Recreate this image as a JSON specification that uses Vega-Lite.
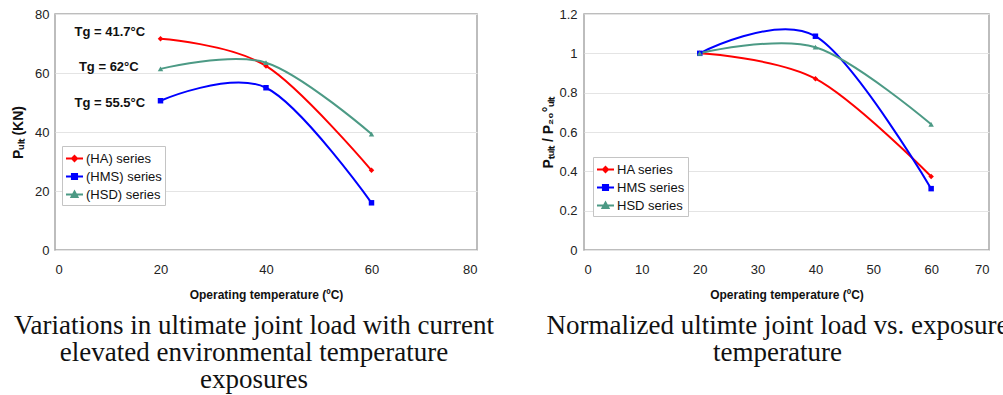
{
  "$schema": "https://vega.github.io/schema/vega-lite/v6.json",
  "padding": {"left": 10, "top": 7, "right": 0, "bottom": 0},
  "background": "white",
  "bounds": "flush",
  "spacing": 107,
  "config": {
    "view": {"stroke": "#a8a8a8", "strokeWidth": 1.5},
    "axis": {"labelFont": "Liberation Sans", "labelFontSize": 13, "labelColor": "#222222", "titleFont": "Liberation Sans", "titleFontSize": 13, "titleFontWeight": "bold", "titleColor": "#111111", "domain": false, "ticks": false, "gridColor": "#e4e4e4", "gridWidth": 1, "labelOverlap": false},
    "legend": {"labelFont": "Liberation Sans", "labelFontSize": 13, "labelColor": "#111111", "strokeColor": "#c4c4c4", "fillColor": "white", "padding": 3, "symbolSize": 289, "symbolStrokeWidth": 2, "rowPadding": 1, "labelOffset": 2},
    "title": {"font": "Liberation Serif", "fontSize": 27, "fontWeight": "normal", "color": "#111111", "lineHeight": 27}
  },
  "datasets": {
    "left": [
      {"series": "(HA) series", "t": 20, "p": 71.6},
      {"series": "(HA) series", "t": 40, "p": 62.4},
      {"series": "(HA) series", "t": 60, "p": 27},
      {"series": "(HMS) series", "t": 20, "p": 50.6},
      {"series": "(HMS) series", "t": 40, "p": 55},
      {"series": "(HMS) series", "t": 60, "p": 16},
      {"series": "(HSD) series", "t": 20, "p": 61.4},
      {"series": "(HSD) series", "t": 40, "p": 63.5},
      {"series": "(HSD) series", "t": 60, "p": 39.3}
    ],
    "labels": [
      {"t": 10.4, "p": 74, "label": "Tg = 41.7°C"},
      {"t": 10.2, "p": 62, "label": "Tg = 62°C"},
      {"t": 10.4, "p": 50, "label": "Tg = 55.5°C"}
    ],
    "right": [
      {"series": "HA series", "t": 20, "r": 1.0},
      {"series": "HA series", "t": 40, "r": 0.871},
      {"series": "HA series", "t": 60, "r": 0.374},
      {"series": "HMS series", "t": 20, "r": 1.0},
      {"series": "HMS series", "t": 40, "r": 1.087},
      {"series": "HMS series", "t": 60, "r": 0.312},
      {"series": "HSD series", "t": 20, "r": 1.0},
      {"series": "HSD series", "t": 40, "r": 1.031},
      {"series": "HSD series", "t": 60, "r": 0.639}
    ]
  },
  "hconcat": [
    {
      "width": 422,
      "height": 236,
      "title": {"text": ["Variations in ultimate joint load with current", "elevated environmental temperature", "exposures"], "orient": "bottom", "anchor": "middle", "dx": -12, "offset": 13},
      "encoding": {
        "x": {"field": "t", "type": "quantitative", "scale": {"domain": [0, 80]}, "axis": {"values": [0, 20, 40, 60, 80], "grid": false, "labelOverlap": false, "labelPadding": 13, "title": "Operating temperature (ºC)", "titleFontSize": 12, "titlePadding": 13}},
        "y": {"field": "p", "type": "quantitative", "scale": {"domain": [0, 80]}, "axis": {"values": [0, 20, 40, 60, 80], "labelOverlap": false, "labelPadding": 6, "title": "Pᵤₗₜ (KN)", "titleFontSize": 14, "titlePadding": 9}}
      },
      "layer": [
        {
          "data": {"name": "left"},
          "mark": {"type": "line", "interpolate": "cardinal", "tension": 0, "strokeWidth": 2},
          "encoding": {
            "color": {"field": "series", "type": "nominal", "scale": {"domain": ["(HA) series", "(HMS) series", "(HSD) series"], "range": ["#ff0000", "#0000ff", "#4c9a85"]},
              "legend": {"title": null, "orient": "none", "legendX": 7, "legendY": 132,
                "encode": {"symbols": {"update": {
                  "shape": {"signal": "datum.value == '(HA) series' ? 'M-1,0H1M0,-0.3L0.3,0L0,0.3L-0.3,0Z' : datum.value == '(HMS) series' ? 'M-1,0H1M-0.3,-0.3H0.3V0.3H-0.3Z' : 'M-1,0H1M0,-0.35L0.35,0.28H-0.35Z'"},
                  "fill": {"signal": "datum.value == '(HA) series' ? '#ff0000' : datum.value == '(HMS) series' ? '#0000ff' : '#4c9a85'"},
                  "stroke": {"signal": "datum.value == '(HA) series' ? '#ff0000' : datum.value == '(HMS) series' ? '#0000ff' : '#4c9a85'"}
                }}}}}
          }
        },
        {
          "data": {"name": "left"},
          "mark": {"type": "point", "filled": true, "opacity": 1, "size": 30},
          "encoding": {
            "color": {"field": "series", "type": "nominal"},
            "shape": {"condition": [{"test": "datum.series == '(HMS) series'", "value": "square"}, {"test": "datum.series == '(HSD) series'", "value": "triangle-up"}], "value": "diamond"}
          }
        },
        {
          "data": {"name": "labels"},
          "mark": {"type": "text", "font": "Liberation Sans", "fontSize": 13, "fontWeight": "bold", "color": "#111111", "align": "center", "baseline": "middle"},
          "encoding": {
            "text": {"field": "label"}
          }
        }
      ]
    },
    {
      "width": 405,
      "height": 236,
      "title": {"text": ["Normalized ultimte joint load vs. exposure", "temperature"], "orient": "bottom", "anchor": "middle", "dx": -9, "offset": 13},
      "data": {"name": "right"},
      "encoding": {
        "x": {"field": "t", "type": "quantitative", "scale": {"domain": [0, 70]}, "axis": {"values": [0, 10, 20, 30, 40, 50, 60, 70], "grid": false, "labelOverlap": false, "labelPadding": 13, "title": "Operating temperature (ºC)", "titleFontSize": 12, "titlePadding": 13}},
        "y": {"field": "r", "type": "quantitative", "scale": {"domain": [0, 1.2]}, "axis": {"values": [0, 0.2, 0.4, 0.6, 0.8, 1, 1.2], "format": "~g", "labelOverlap": false, "labelPadding": 7, "title": "Pₜᵤₗₜ / P₂₀°ᵤₗₜ", "titleFontSize": 14, "titlePadding": 3}}
      },
      "layer": [
        {
          "mark": {"type": "line", "interpolate": "cardinal", "tension": 0, "strokeWidth": 2},
          "encoding": {
            "color": {"field": "series", "type": "nominal", "scale": {"domain": ["HA series", "HMS series", "HSD series"], "range": ["#ff0000", "#0000ff", "#4c9a85"]},
              "legend": {"title": null, "orient": "none", "legendX": 9, "legendY": 143, "rowPadding": 1,
                "encode": {"symbols": {"update": {
                  "shape": {"signal": "datum.value == 'HA series' ? 'M-1,0H1M0,-0.3L0.3,0L0,0.3L-0.3,0Z' : datum.value == 'HMS series' ? 'M-1,0H1M-0.3,-0.3H0.3V0.3H-0.3Z' : 'M-1,0H1M0,-0.35L0.35,0.28H-0.35Z'"},
                  "fill": {"signal": "datum.value == 'HA series' ? '#ff0000' : datum.value == 'HMS series' ? '#0000ff' : '#4c9a85'"},
                  "stroke": {"signal": "datum.value == 'HA series' ? '#ff0000' : datum.value == 'HMS series' ? '#0000ff' : '#4c9a85'"}
                }}}}}
          }
        },
        {
          "mark": {"type": "point", "filled": true, "opacity": 1, "size": 30},
          "encoding": {
            "color": {"field": "series", "type": "nominal"},
            "shape": {"condition": [{"test": "datum.series == 'HMS series'", "value": "square"}, {"test": "datum.series == 'HSD series'", "value": "triangle-up"}], "value": "diamond"}
          }
        }
      ]
    }
  ],
  "resolve": {"scale": {"color": "independent", "x": "independent", "y": "independent"}, "legend": {"color": "independent"}}
}
